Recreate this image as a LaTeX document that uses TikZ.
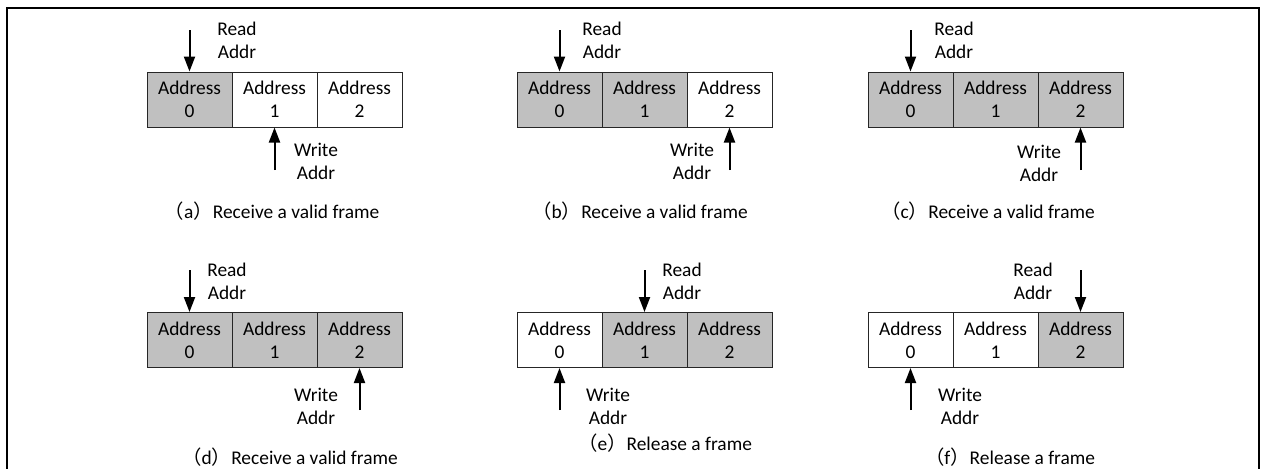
\documentclass[tikz,border=0pt]{standalone}
\usepackage{fontspec}
\setmainfont{Carlito}
\newfontfamily\cjk{Noto Sans CJK SC}
\usetikzlibrary{arrows.meta}
\definecolor{cellgray}{RGB}{192,192,192}
\tikzset{
  cell/.style={draw=black!85, line width=0.5pt, minimum width=42.5pt, minimum height=27.5pt, inner sep=0pt, align=center, font=\fontsize{9.7}{11.5}\selectfont},
  full/.style={cell, fill=cellgray},
  empty/.style={cell, fill=white},
  ptr/.style={line width=1pt, -{Triangle[width=5.5pt,length=7.5pt]}},
  lbl/.style={align=center, inner sep=0pt, font=\fontsize{9.7}{11.5}\selectfont},
  captxt/.style={inner sep=0pt, font=\fontsize{9.7}{11.5}\selectfont},
  outerframe/.style={line width=1.1pt}
}
\newcommand{\lp}{{\cjk （}}
\newcommand{\rp}{{\cjk ）}}
\begin{document}
\begin{tikzpicture}[x=0.5pt,y=-0.5pt]
\useasboundingbox (0,0) rectangle (1267,468);
\clip (0,0) rectangle (1267,468);
\draw[outerframe] (7,8) rectangle (1259,490);

% (a)
\node[full]  (a0) at (189.5,99.5) {Address\\0};
\node[empty] (a1) at (274.5,99.5) {Address\\1};
\node[empty] (a2) at (359.5,99.5) {Address\\2};
\coordinate (aR) at (189.5,30);
\coordinate (aW) at (274.5,170);
\draw[ptr] (aR) -- (a0.north);
\draw[ptr] (aW) -- (a1.south);
\node[lbl] (aRt) at (237,40.5) {Read\\Addr};
\node[lbl] (aWt) at (316,161) {Write\\Addr};
\node[captxt] (acap) at (272,211) {\lp a\rp Receive a valid frame};

% (b)
\node[full]  (b0) at (559.5,99.5) {Address\\0};
\node[full]  (b1) at (644.5,99.5) {Address\\1};
\node[empty] (b2) at (729.5,99.5) {Address\\2};
\coordinate (bR) at (559.5,30);
\coordinate (bW) at (729.5,170);
\draw[ptr] (bR) -- (b0.north);
\draw[ptr] (bW) -- (b2.south);
\node[lbl] (bRt) at (602,40.5) {Read\\Addr};
\node[lbl] (bWt) at (692,161) {Write\\Addr};
\node[captxt] (bcap) at (640,211) {\lp b\rp Receive a valid frame};

% (c)
\node[full] (c0) at (910.5,99.5) {Address\\0};
\node[full] (c1) at (995.5,99.5) {Address\\1};
\node[full] (c2) at (1080.5,99.5) {Address\\2};
\coordinate (cR) at (910.5,30);
\coordinate (cW) at (1080.5,170);
\draw[ptr] (cR) -- (c0.north);
\draw[ptr] (cW) -- (c2.south);
\node[lbl] (cRt) at (954,40.5) {Read\\Addr};
\node[lbl] (cWt) at (1039,163) {Write\\Addr};
\node[captxt] (ccap) at (988,211) {\lp c\rp Receive a valid frame};

% (d)
\node[full] (d0) at (189.5,340) {Address\\0};
\node[full] (d1) at (274.5,340) {Address\\1};
\node[full] (d2) at (359.5,340) {Address\\2};
\coordinate (dR) at (189.5,270);
\coordinate (dW) at (359.5,410);
\draw[ptr] (dR) -- (d0.north);
\draw[ptr] (dW) -- (d2.south);
\node[lbl] (dRt) at (227,281) {Read\\Addr};
\node[lbl] (dWt) at (316,406) {Write\\Addr};
\node[captxt] (dcap) at (290,457) {\lp d\rp Receive a valid frame};

% (e)
\node[empty] (e0) at (559.5,340) {Address\\0};
\node[full]  (e1) at (644.5,340) {Address\\1};
\node[full]  (e2) at (729.5,340) {Address\\2};
\coordinate (eR) at (644.5,270);
\coordinate (eW) at (559.5,410);
\draw[ptr] (eR) -- (e1.north);
\draw[ptr] (eW) -- (e0.south);
\node[lbl] (eRt) at (682,281) {Read\\Addr};
\node[lbl] (eWt) at (608,406) {Write\\Addr};
\node[captxt] (ecap) at (665,443) {\lp e\rp Release a frame};

% (f)
\node[empty] (f0) at (910.5,340) {Address\\0};
\node[empty] (f1) at (995.5,340) {Address\\1};
\node[full]  (f2) at (1080.5,340) {Address\\2};
\coordinate (fR) at (1080.5,270);
\coordinate (fW) at (910.5,410);
\draw[ptr] (fR) -- (f2.north);
\draw[ptr] (fW) -- (f0.south);
\node[lbl] (fRt) at (1033,281) {Read\\Addr};
\node[lbl] (fWt) at (960,406) {Write\\Addr};
\node[captxt] (fcap) at (1010,457) {\lp f\rp Release a frame};
\end{tikzpicture}
\end{document}
